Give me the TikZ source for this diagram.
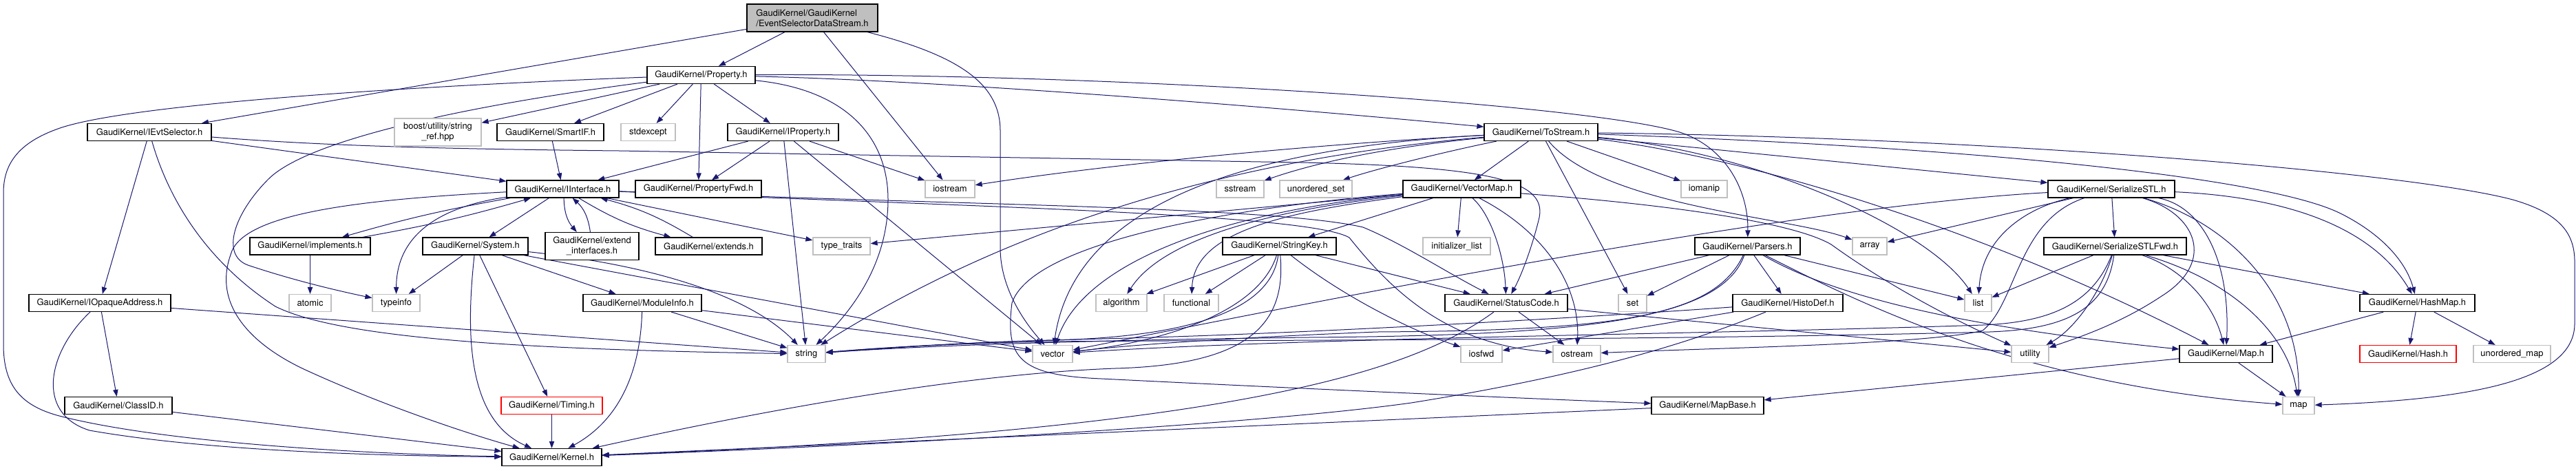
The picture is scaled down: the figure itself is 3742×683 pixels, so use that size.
\documentclass[tikz,border=0pt]{standalone}
\usepackage{fontspec}
\newfontfamily\hfont{TeX Gyre Heros}
\usetikzlibrary{arrows.meta}
\definecolor{edgeblue}{HTML}{191970}
\definecolor{lgray}{HTML}{BFBFBF}
\definecolor{rootfill}{HTML}{BFBFBF}
\pgfdeclarelayer{bg}
\pgfsetlayers{bg,main}
\tikzset{
  hdr/.style={draw=black, line width=0.9pt, fill=white, inner sep=0pt, minimum height=18.75pt, font=\hfont\fontsize{9.7pt}{11pt}\selectfont, text=black},
  ext/.style={hdr, draw=lgray},
  miss/.style={hdr, draw=red},
  rootbox/.style={hdr, fill=rootfill, minimum height=30pt, align=left},
  two/.style={minimum height=30pt, align=center},
  dep/.style={draw=edgeblue, line width=0.75pt, -{Triangle[length=7.5pt,width=5.5pt]}},
}
\begin{document}
\begin{tikzpicture}[x=0.75pt,y=-0.75pt]
\path[use as bounding box] (0,0) rectangle (3742,683);
% ---------------- nodes ----------------
\node[rootbox, minimum width=142.5pt] (root) at (1180,26) {GaudiKernel/GaudiKernel\\/EventSelectorDataStream.h};
\node[hdr, minimum width=117.75pt] (prop) at (1018.5,109) {GaudiKernel/Property.h};
% row A
\node[hdr, minimum width=135pt] (ievt) at (217,192) {GaudiKernel/IEvtSelector.h};
\node[ext, two, minimum width=94.5pt] (boost) at (636,192) {boost/utility/string\\\_ref.hpp};
\node[hdr, minimum width=116.25pt] (smartif) at (799.5,192) {GaudiKernel/SmartIF.h};
\node[ext, minimum width=59.25pt] (stdexcept) at (941.5,192) {stdexcept};
\node[hdr, minimum width=120.75pt] (iprop) at (1137.5,192) {GaudiKernel/IProperty.h};
\node[hdr, minimum width=123.75pt] (tostream) at (2238.5,192) {GaudiKernel/ToStream.h};
% row B
\node[hdr, minimum width=122.25pt] (iiface) at (817.5,274.5) {GaudiKernel/IInterface.h};
\node[hdr, minimum width=137.25pt] (pfwd) at (1014.5,274.5) {GaudiKernel/PropertyFwd.h};
\node[ext, minimum width=54pt] (iostream) at (1380,274.5) {iostream};
\node[ext, minimum width=51.75pt] (sstream) at (1801.5,274.5) {sstream};
\node[ext, minimum width=78.75pt] (uset) at (1911.5,274.5) {unordered\_set};
\node[hdr, minimum width=128.25pt] (vmap) at (2123.5,274.5) {GaudiKernel/VectorMap.h};
\node[ext, minimum width=50.25pt] (iomanip) at (2475.5,274.5) {iomanip};
\node[hdr, minimum width=138pt] (sstl) at (3067,274.5) {GaudiKernel/SerializeSTL.h};
% row C
\node[hdr, minimum width=131.25pt] (impl) at (450.5,357.5) {GaudiKernel/implements.h};
\node[hdr, minimum width=114.75pt] (system) at (690.5,357.5) {GaudiKernel/System.h};
\node[hdr, two, minimum width=102pt] (extif) at (860,357.5) {GaudiKernel/extend\\\_interfaces.h};
\node[hdr, minimum width=116.25pt] (extends) at (1029.5,357.5) {GaudiKernel/extends.h};
\node[ext, minimum width=62.25pt] (ttraits) at (1222.5,357.5) {type\_traits};
\node[hdr, minimum width=123.75pt] (skey) at (1858.5,357.5) {GaudiKernel/StringKey.h};
\node[ext, minimum width=73.5pt] (initl) at (2116,357.5) {initializer\_list};
\node[hdr, minimum width=114.75pt] (parsers) at (2538.5,357.5) {GaudiKernel/Parsers.h};
\node[ext, minimum width=37.5pt] (array) at (2716,357.5) {array};
\node[hdr, minimum width=155.25pt] (sstlf) at (3072.5,357.5) {GaudiKernel/SerializeSTLFwd.h};
% row D
\node[hdr, minimum width=154.5pt] (iopaque) at (145,440) {GaudiKernel/IOpaqueAddress.h};
\node[ext, minimum width=45.75pt] (atomic) at (450.5,440) {atomic};
\node[ext, minimum width=51.75pt] (typeinfo) at (575.5,440) {typeinfo};
\node[hdr, minimum width=129pt] (modinfo) at (933,440) {GaudiKernel/ModuleInfo.h};
\node[ext, minimum width=55.5pt] (algorithm) at (1629,440) {algorithm};
\node[ext, minimum width=59.25pt] (functional) at (1730.5,440) {functional};
\node[hdr, minimum width=133.5pt] (status) at (2188,440) {GaudiKernel/StatusCode.h};
\node[ext, minimum width=30.75pt] (set) at (2371.5,440) {set};
\node[hdr, minimum width=120pt] (histodef) at (2597,440) {GaudiKernel/HistoDef.h};
\node[ext, minimum width=29.25pt] (list) at (2873.5,440) {list};
\node[hdr, minimum width=125.25pt] (hashmap) at (3511.5,440) {GaudiKernel/HashMap.h};
% row E
\node[ext, minimum width=41.25pt] (string) at (1171.5,514) {string};
\node[ext, minimum width=43.5pt] (vector) at (1529,514) {vector};
\node[ext, minimum width=45pt] (iosfwd) at (2152,514) {iosfwd};
\node[ext, minimum width=51.75pt] (ostream) at (2290.5,514) {ostream};
\node[ext, minimum width=40.5pt] (utility) at (2949,514) {utility};
\node[hdr, minimum width=101.25pt] (mapH) at (3233.5,514) {GaudiKernel/Map.h};
\node[miss, minimum width=105pt] (hash) at (3498,514) {GaudiKernel/Hash.h};
\node[ext, minimum width=84pt] (umap) at (3649,514) {unordered\_map};
% row F
\node[hdr, minimum width=117pt] (classid) at (172,589) {GaudiKernel/ClassID.h};
\node[miss, minimum width=110.25pt] (timing) at (801.5,589) {GaudiKernel/Timing.h};
\node[hdr, minimum width=122.25pt] (mapbase) at (2480.5,589) {GaudiKernel/MapBase.h};
\node[ext, minimum width=34.5pt] (map) at (3339,589) {map};
% bottom
\node[hdr, minimum width=108.75pt] (kernel) at (801.5,664) {GaudiKernel/Kernel.h};
% ---------------- edges ----------------
\begin{pgfonlayer}{bg}
\fill[white] (0,0) rectangle (3742,683);
% root
\draw[dep] (root) -- (ievt);
\draw[dep] (root) -- (prop);
\draw[dep] (root) -- (iostream);
\draw[dep] (root) .. controls (1390,80) and (1453,120) .. (1453,190) -- (1453,360) .. controls (1453,420) and (1490,470) .. (vector);
% IEvtSelector
\draw[dep] (ievt) -- (iiface);
\draw[dep] (ievt) -- (iopaque);
\draw[dep] (ievt) .. controls (450,210) and (600,216) .. (900,219) -- (1890,236) .. controls (2180,242) and (2250,265) .. (2235,320) .. controls (2225,360) and (2210,400) .. (status);
\draw[dep] (ievt) .. controls (245,290) and (300,380) .. (400,445) .. controls (500,495) and (800,508) .. (string);
% IOpaqueAddress / ClassID
\draw[dep] (iopaque) -- (classid);
\draw[dep] (iopaque) .. controls (70,510) and (50,600) .. (130,625) .. controls (300,655) and (550,662) .. (kernel);
\draw[dep] (iopaque) -- (string);
\draw[dep] (classid) -- (kernel);
% Property
\draw[dep] (prop) -- (boost);
\draw[dep] (prop) -- (smartif);
\draw[dep] (prop) -- (stdexcept);
\draw[dep] (prop) -- (pfwd);
\draw[dep] (prop) -- (iprop);
\draw[dep] (prop) .. controls (1400,118) and (1900,160) .. (tostream);
\draw[dep] (prop) .. controls (1600,106) and (2300,150) .. (2440,192) .. controls (2510,215) and (2540,280) .. (parsers);
\draw[dep] (prop) .. controls (600,125) and (200,150) .. (90,185) .. controls (30,205) and (5,235) .. (5,280) -- (5,500) .. controls (5,560) and (30,590) .. (90,605) .. controls (250,645) and (550,660) .. (kernel);
\draw[dep] (prop) .. controls (700,150) and (450,200) .. (390,260) .. controls (340,310) and (320,370) .. (360,385) .. controls (420,405) and (480,420) .. (typeinfo);
\draw[dep] (prop) .. controls (1230,130) and (1290,200) .. (1290,290) .. controls (1290,380) and (1240,450) .. (string);
% IProperty
\draw[dep] (iprop) -- (iiface);
\draw[dep] (iprop) -- (pfwd);
\draw[dep] (iprop) -- (string);
\draw[dep] (iprop) -- (vector);
\draw[dep] (iprop) -- (iostream);
% SmartIF
\draw[dep] (smartif) -- (iiface);
% IInterface
\draw[dep] (iiface) -- (system);
\draw[dep] (iiface) to[bend right=20] (extif);
\draw[dep] (extif) to[bend right=20] (iiface);
\draw[dep] (iiface) to[bend right=3] (impl);
\draw[dep] (impl) to[bend right=3] (iiface);
\draw[dep] (iiface) to[bend right=8] (extends);
\draw[dep] (extends) to[bend right=8] (iiface);
\draw[dep] (iiface) -- (ttraits);
\draw[dep] (iiface) .. controls (1400,298) and (1850,300) .. (1980,330) .. controls (2040,355) and (2100,395) .. (status);
\draw[dep] (iiface) .. controls (1400,300) and (1900,310) .. (1960,345) .. controls (2020,420) and (2100,500) .. (ostream);
\draw[dep] (iiface) .. controls (520,290) and (350,310) .. (335,370) .. controls (310,440) and (360,500) .. (450,540) .. controls (560,590) and (680,630) .. (kernel);
\draw[dep] (iiface) .. controls (640,300) and (576,340) .. (typeinfo);
% implements
\draw[dep] (impl) -- (atomic);
% System
\draw[dep] (system) -- (typeinfo);
\draw[dep] (system) .. controls (676,490) and (680,610) .. (kernel);
\draw[dep] (system) -- (timing);
\draw[dep] (system) -- (modinfo);
\draw[dep] (system) .. controls (950,385) and (1090,430) .. (string);
\draw[dep] (system) -- (vector);
% ModuleInfo / Timing
\draw[dep] (modinfo) -- (string);
\draw[dep] (modinfo) -- (vector);
\draw[dep] (modinfo) .. controls (930,540) and (900,610) .. (kernel);
\draw[dep] (timing) -- (kernel);
% ToStream
\draw[dep] (tostream) .. controls (1900,210) and (1600,240) .. (iostream);
\draw[dep] (tostream) .. controls (2000,215) and (1900,240) .. (sstream);
\draw[dep] (tostream) .. controls (2100,220) and (2000,245) .. (uset);
\draw[dep] (tostream) -- (vmap);
\draw[dep] (tostream) -- (iomanip);
\draw[dep] (tostream) -- (set);
\draw[dep] (tostream) .. controls (2330,300) and (2600,315) .. (array);
\draw[dep] (tostream) .. controls (2550,220) and (2800,330) .. (list);
\draw[dep] (tostream) -- (sstl);
\draw[dep] (tostream) .. controls (2900,215) and (3300,260) .. (3400,310) .. controls (3460,340) and (3495,380) .. (hashmap);
\draw[dep] (tostream) .. controls (2550,230) and (2900,340) .. (mapH);
\draw[dep] (tostream) .. controls (2900,200) and (3500,250) .. (3650,290) .. controls (3720,310) and (3740,340) .. (3740,380) -- (3740,470) .. controls (3740,550) and (3600,580) .. (map);
\draw[dep] (tostream) .. controls (1800,230) and (1480,320) .. (string);
\draw[dep] (tostream) .. controls (1800,215) and (1560,300) .. (vector);
% VectorMap
\draw[dep] (vmap) -- (skey);
\draw[dep] (vmap) -- (initl);
\draw[dep] (vmap) .. controls (2165,310) and (2185,370) .. (status);
\draw[dep] (vmap) .. controls (2250,340) and (2295,420) .. (ostream);
\draw[dep] (vmap) .. controls (1800,300) and (1500,350) .. (1470,440) .. controls (1460,520) and (1480,545) .. (1600,550) .. controls (1900,565) and (2250,580) .. (mapbase);
\draw[dep] (vmap) .. controls (1750,310) and (1570,390) .. (vector);
\draw[dep] (vmap) .. controls (1800,310) and (1680,360) .. (algorithm);
\draw[dep] (vmap) .. controls (1850,310) and (1735,340) .. (functional);
\draw[dep] (vmap) -- (ttraits);
\draw[dep] (vmap) .. controls (2400,295) and (2600,320) .. (2660,355) .. controls (2750,420) and (2850,470) .. (utility);
% StringKey
\draw[dep] (skey) -- (algorithm);
\draw[dep] (skey) -- (functional);
\draw[dep] (skey) .. controls (1830,450) and (1700,495) .. (vector);
\draw[dep] (skey) .. controls (1845,460) and (1700,490) .. (1529,494) .. controls (1400,497) and (1300,505) .. (string);
\draw[dep] (skey) .. controls (1870,480) and (1800,530) .. (1620,535) .. controls (1350,545) and (1000,620) .. (kernel);
\draw[dep] (skey) .. controls (1950,430) and (2050,480) .. (iosfwd);
\draw[dep] (skey) -- (status);
% StatusCode
\draw[dep] (status) -- (ostream);
\draw[dep] (status) -- (utility);
\draw[dep] (status) .. controls (2050,540) and (1800,625) .. (kernel);
% Parsers
\draw[dep] (parsers) -- (status);
\draw[dep] (parsers) -- (set);
\draw[dep] (parsers) -- (histodef);
\draw[dep] (parsers) -- (list);
\draw[dep] (parsers) .. controls (2680,440) and (2900,480) .. (mapH);
\draw[dep] (parsers) .. controls (2720,450) and (2950,560) .. (map);
\draw[dep] (parsers) .. controls (2490,460) and (2350,480) .. (2000,482) .. controls (1800,490) and (1650,500) .. (vector);
\draw[dep] (parsers) .. controls (2500,465) and (2300,487) .. (1900,490) .. controls (1500,495) and (1300,505) .. (string);
% HistoDef
\draw[dep] (histodef) -- (iosfwd);
\draw[dep] (histodef) .. controls (2350,458) and (1900,485) .. (1600,492) .. controls (1400,497) and (1280,505) .. (string);
\draw[dep] (histodef) .. controls (2450,500) and (2300,545) .. (2050,585) .. controls (1800,620) and (1200,650) .. (kernel);
% SerializeSTL
\draw[dep] (sstl) .. controls (2600,300) and (1900,440) .. (vector);
\draw[dep] (sstl) -- (array);
\draw[dep] (sstl) .. controls (2950,300) and (2880,340) .. (list);
\draw[dep] (sstl) .. controls (2930,320) and (2930,440) .. (2880,480) .. controls (2800,500) and (2500,505) .. (ostream);
\draw[dep] (sstl) -- (sstlf);
\draw[dep] (sstl) .. controls (3190,310) and (3220,380) .. (3140,430) .. controls (3080,470) and (3020,490) .. (utility);
\draw[dep] (sstl) .. controls (3200,300) and (3240,380) .. (mapH);
\draw[dep] (sstl) .. controls (3230,320) and (3340,420) .. (map);
\draw[dep] (sstl) .. controls (3300,285) and (3440,320) .. (hashmap);
% SerializeSTLFwd
\draw[dep] (sstlf) -- (list);
\draw[dep] (sstlf) .. controls (3040,440) and (2980,468) .. (2880,472) .. controls (2500,485) and (1900,490) .. (vector);
\draw[dep] (sstlf) .. controls (3060,450) and (3000,478) .. (2890,482) .. controls (2400,495) and (1700,494) .. (1529,496) .. controls (1400,498) and (1280,505) .. (string);
\draw[dep] (sstlf) .. controls (3050,430) and (3010,480) .. (utility);
\draw[dep] (sstlf) .. controls (3170,390) and (3215,440) .. (mapH);
\draw[dep] (sstlf) .. controls (3250,410) and (3325,490) .. (map);
\draw[dep] (sstlf) -- (hashmap);
% HashMap / Map / MapBase
\draw[dep] (hashmap) -- (mapH);
\draw[dep] (hashmap) -- (hash);
\draw[dep] (hashmap) -- (umap);
\draw[dep] (mapH) -- (map);
\draw[dep] (mapH) -- (mapbase);
\draw[dep] (mapbase) -- (kernel);
\end{pgfonlayer}
\end{tikzpicture}
\end{document}
